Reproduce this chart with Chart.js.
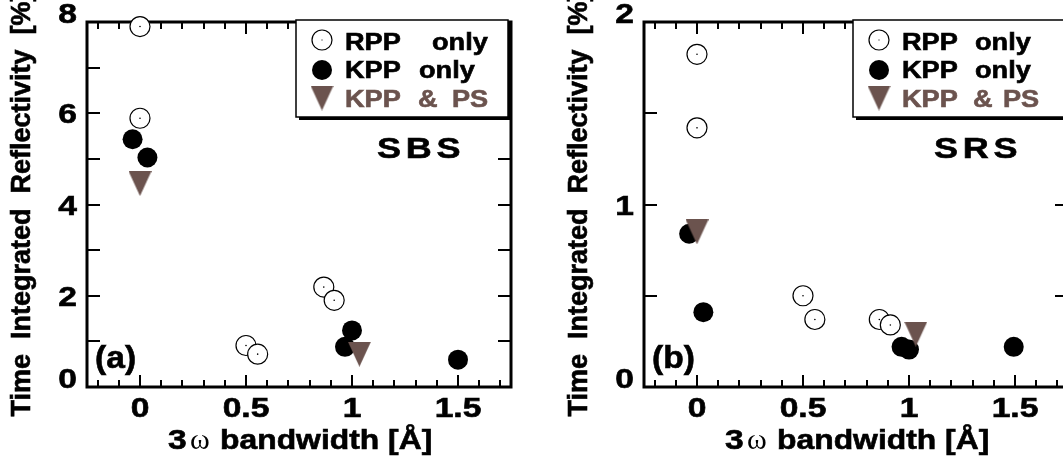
<!DOCTYPE html>
<html>
<head>
<meta charset="utf-8">
<script src="https://cdn.jsdelivr.net/npm/chart.js@4.4.1/dist/chart.umd.min.js"></script>
<style>
    html, body { margin: 0; padding: 0; background: #fff; overflow: hidden; width: 1063px; height: 461px; }
    #sbsChart { position: absolute; left: 0; top: 0; }
    #srsChart { position: absolute; left: 557px; top: 0; }
</style>
</head>
<body>
<canvas id="sbsChart" width="530" height="461"></canvas>
<canvas id="srsChart" width="530" height="461"></canvas>
<script>
// shared x axis (3w bandwidth, Angstrom)
const xMin = -0.25, xMax = 1.75;
const xTickValues = [0, 0.5, 1, 1.5];
const xTickLabels = ["0", "0.5", "1", "1.5"];

// (a) SBS
const sbsYMax = 8, sbsYStep = 1;
const sbsYTickValues = [0, 2, 4, 6, 8];
const sbsYTickLabels = ["0", "2", "4", "6", "8"];
const sbsRppX = [0, 0, 0.5, 0.555, 0.867, 0.916];
const sbsRppY = [7.9, 5.89, 0.91, 0.72, 2.19, 1.9];
const sbsKppX = [-0.035, 0.035, 0.967, 1.0, 1.5];
const sbsKppY = [5.43, 5.03, 0.88, 1.24, 0.6];
const sbsPsX = [0, 1.035];
const sbsPsY = [4.46, 0.72];

// (b) SRS
const srsYMax = 2, srsYStep = 0.5;
const srsYTickValues = [0, 1, 2];
const srsYTickLabels = ["0", "1", "2"];
const srsRppX = [0, 0, 0.5, 0.556, 0.86, 0.912];
const srsRppY = [1.823, 1.42, 0.5, 0.37, 0.37, 0.34];
const srsKppX = [-0.037, 0.03, 0.965, 1.0, 1.494];
const srsKppY = [0.84, 0.41, 0.22, 0.205, 0.22];
const srsPsX = [0, 1.032];
const srsPsY = [0.85, 0.29];

const BROWN = "#6b534e";
const SANS = "'Liberation Sans', Arial, sans-serif";

// downward triangle marker (a bit taller than wide, like the original)
const triMarker = document.createElement("canvas");
triMarker.width = 23;
triMarker.height = 25;
(function() {
    const c = triMarker.getContext("2d");
    c.fillStyle = BROWN;
    c.beginPath();
    c.moveTo(0, 0);
    c.lineTo(23, 0);
    c.lineTo(11.5, 25);
    c.closePath();
    c.fill();
})();

function pts(xs, ys) {
    return xs.map((x, i) => ({ x: x, y: ys[i] }));
}

// the original lettering is a heavy, horizontally stretched Helvetica
function drawText(ctx, txt, x, y, font, color, align, sx, spacing, heavy) {
    ctx.save();
    ctx.translate(x, y);
    ctx.scale(sx || 1, 1);
    ctx.font = font;
    ctx.fillStyle = color || "#000";
    ctx.strokeStyle = color || "#000";
    ctx.textAlign = align || "left";
    ctx.textBaseline = "alphabetic";
    ctx.letterSpacing = (spacing || 0) + "px";
    ctx.fillText(txt, 0, 0);
    if (heavy !== false) {
        ctx.lineWidth = 0.6;
        ctx.strokeText(txt, 0, 0);
    }
    ctx.restore();
}

// frame with inward ticks on all four sides
const framePlugin = {
    id: "frame",
    beforeDatasetsDraw(chart, args, opts) {
        const ctx = chart.ctx;
        const a = chart.chartArea;
        const xs = chart.scales.x, ys = chart.scales.y;
        ctx.save();
        ctx.strokeStyle = "#000";
        ctx.lineWidth = 2;
        ctx.beginPath();
        for (let i = -2; i <= 17; i++) {
            const px = Math.round(xs.getPixelForValue(i / 10));
            const len = (i % 5 === 0) ? 12 : 7;
            ctx.moveTo(px, a.bottom); ctx.lineTo(px, a.bottom - len);
            ctx.moveTo(px, a.top); ctx.lineTo(px, a.top + len);
        }
        for (let v = opts.yStep; v < opts.yMax - 1e-9; v += opts.yStep) {
            const py = Math.round(ys.getPixelForValue(v));
            ctx.moveTo(a.left, py); ctx.lineTo(a.left + 13, py);
            ctx.moveTo(a.right, py); ctx.lineTo(a.right - 13, py);
        }
        ctx.stroke();
        ctx.lineWidth = 3;
        ctx.strokeRect(a.left, a.top, a.right - a.left, a.bottom - a.top);
        ctx.restore();

        // tick labels
        const tickFont = "bold 28px " + SANS;
        xTickValues.forEach((v, i) => {
            drawText(ctx, xTickLabels[i], xs.getPixelForValue(v), 417, tickFont, "#000", "center", 1.2);
        });
        opts.yValues.forEach((v, i) => {
            const py = ys.getPixelForValue(v);
            const isEnd = (v === 0 || v === opts.yMax);
            drawText(ctx, opts.yLabels[i], 77, isEnd ? py + 1 : py + 10, tickFont, "#000", "right", 1.2);
        });

        // axis titles
        ctx.save();
        ctx.translate(23, (a.top + a.bottom) / 2);
        ctx.rotate(-Math.PI / 2);
        ctx.font = "bold 27px " + SANS;
        ctx.fillStyle = "#000";
        ctx.strokeStyle = "#000";
        ctx.lineWidth = 0.6;
        ctx.textAlign = "center";
        ctx.textBaseline = "middle";
        ctx.fillText("Time  Integrated  Reflectivity  [%]", 0, 0);
        ctx.strokeText("Time  Integrated  Reflectivity  [%]", 0, 0);
        ctx.restore();

        const x0 = (a.left + a.right) / 2 - 131;
        drawText(ctx, "3", x0, 449, "bold 28px " + SANS, "#000", "left", 1.2);
        drawText(ctx, "\u03c9", x0 + 22, 449, "30px 'Liberation Serif', 'Times New Roman', serif", "#000", "left", 1, 0, false);
        drawText(ctx, "bandwidth [\u00c5]", x0 + 52, 449, "bold 27px " + SANS, "#000", "left", 1.18);
    },
    afterDatasetsDraw(chart, args, opts) {
        const ctx = chart.ctx;
        // legend box with drop shadow
        const bx = 296, by = 20, bw = 212, bh = 97;
        ctx.save();
        ctx.fillStyle = "#000";
        ctx.fillRect(bx + 3, by + 3, bw, bh);
        ctx.fillStyle = "#fff";
        ctx.fillRect(bx, by, bw, bh);
        ctx.lineWidth = 1.5;
        ctx.strokeStyle = "#000";
        ctx.strokeRect(bx, by, bw, bh);

        ctx.beginPath();
        ctx.arc(322, 40, 10, 0, Math.PI * 2);
        ctx.fillStyle = "#fff";
        ctx.fill();
        ctx.lineWidth = 1.2;
        ctx.stroke();
        ctx.fillStyle = "#000";
        ctx.fillRect(321.5, 39.5, 1, 1);
        ctx.beginPath();
        ctx.arc(322, 70, 10, 0, Math.PI * 2);
        ctx.fill();
        ctx.drawImage(triMarker, 322 - triMarker.width / 2, 98 - triMarker.height / 2);
        ctx.restore();

        const lf = "bold 23px " + SANS;
        opts.legendText.forEach(t => {
            drawText(ctx, t[0], t[1], t[2], lf, t[3] ? BROWN : "#000", "left", 1.18);
        });

        drawText(ctx, opts.name, 377, 158, "bold 30px " + SANS, "#000", "left", 1.2, 4);
        drawText(ctx, opts.letter, 95, 368, "bold 32px " + SANS, "#000", "left", 1.05);
    }
};

function makeChart(id, rppX, rppY, kppX, kppY, psX, psY, frameOpts) {
    return new Chart(document.getElementById(id), {
        type: "scatter",
        data: {
            datasets: [
                {
                    label: "dots",
                    data: pts(rppX, rppY),
                    pointRadius: 0.8,
                    pointBorderWidth: 0,
                    backgroundColor: "#000",
                    order: 0,
                    clip: false
                },
                {
                    label: "KPP & PS",
                    data: pts(psX, psY),
                    pointStyle: triMarker,
                    pointRadius: 12,
                    order: 1,
                    clip: false
                },
                {
                    label: "KPP only",
                    data: pts(kppX, kppY),
                    pointRadius: 10,
                    pointBorderWidth: 0,
                    backgroundColor: "#000",
                    borderColor: "#000",
                    order: 2,
                    clip: false
                },
                {
                    label: "RPP only",
                    data: pts(rppX, rppY),
                    pointRadius: 10,
                    pointBorderWidth: 1.2,
                    backgroundColor: "#fff",
                    borderColor: "#000",
                    order: 3,
                    clip: false
                }
            ]
        },
        options: {
            responsive: false,
            animation: false,
            events: [],
            layout: { padding: { left: 87, right: 19, top: 22, bottom: 74 } },
            scales: {
                x: { type: "linear", min: xMin, max: xMax, display: false },
                y: { type: "linear", min: 0, max: frameOpts.yMax, display: false }
            },
            plugins: {
                legend: { display: false },
                tooltip: { enabled: false },
                frame: frameOpts
            }
        },
        plugins: [framePlugin]
    });
}

makeChart("sbsChart", sbsRppX, sbsRppY, sbsKppX, sbsKppY, sbsPsX, sbsPsY, {
    yMax: sbsYMax, yStep: sbsYStep, yValues: sbsYTickValues, yLabels: sbsYTickLabels,
    name: "SBS", letter: "(a)",
    legendText: [["RPP", 345, 50], ["only", 432, 50], ["KPP", 345, 78], ["only", 419, 78],
                 ["KPP", 345, 107, true], ["&", 418, 107, true], ["PS", 452, 107, true]]
});

makeChart("srsChart", srsRppX, srsRppY, srsKppX, srsKppY, srsPsX, srsPsY, {
    yMax: srsYMax, yStep: srsYStep, yValues: srsYTickValues, yLabels: srsYTickLabels,
    name: "SRS", letter: "(b)",
    legendText: [["RPP", 345, 50], ["only", 418, 50], ["KPP", 345, 78], ["only", 418, 78],
                 ["KPP", 345, 107, true], ["&", 416, 107, true], ["PS", 446, 107, true]]
});
</script>
</body>
</html>
